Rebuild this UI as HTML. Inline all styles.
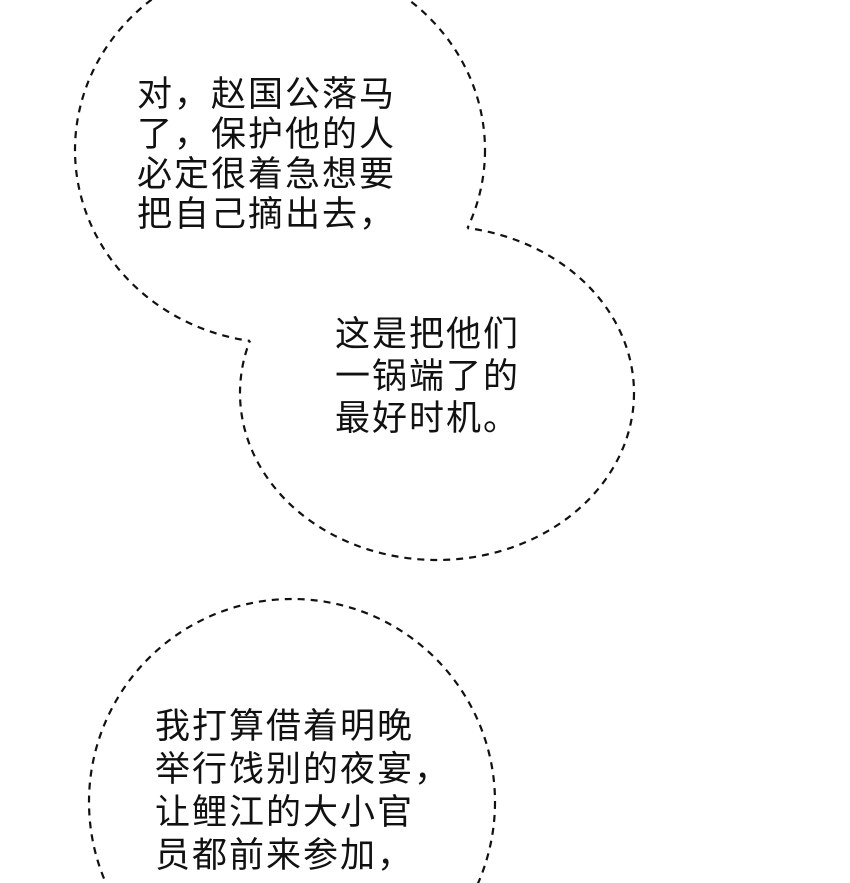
<!DOCTYPE html>
<html><head><meta charset="utf-8"><style>
html,body{margin:0;padding:0;background:#fff;width:850px;height:883px;overflow:hidden;position:relative}
svg{position:absolute;left:0;top:0}
.t{position:absolute;font-family:"Liberation Sans","Noto Sans CJK SC",sans-serif;font-size:35px;color:#111;white-space:nowrap;letter-spacing:2px}
</style></head><body>
<svg width="850" height="883" viewBox="0 0 850 883">
<defs>
<mask id="m1"><rect width="850" height="883" fill="#fff"/><ellipse cx="437" cy="393" rx="197" ry="167" fill="#000"/></mask>
<mask id="m2"><rect width="850" height="883" fill="#fff"/><ellipse cx="280" cy="150" rx="205" ry="193" fill="#000"/></mask>
</defs>
<g fill="none" stroke="#111" stroke-width="2.2" stroke-dasharray="7 6">
<ellipse cx="280" cy="150" rx="205" ry="193" mask="url(#m1)"/>
<ellipse cx="437" cy="393" rx="197" ry="167" mask="url(#m2)"/>
<ellipse cx="292" cy="802" rx="203" ry="203"/>
</g>
</svg>
<div class="t" style="left:137px;top:75px;line-height:40px">对，赵国公落马<br>了，保护他的人<br>必定很着急想要<br>把自己摘出去，</div>
<div class="t" style="left:335px;top:314px;line-height:42px">这是把他们<br>一锅端了的<br>最好时机。</div>
<div class="t" style="left:155px;top:705px;line-height:43px">我打算借着明晚<br>举行饯别的夜宴，<br>让鲤江的大小官<br>员都前来参加，</div>
</body></html>
